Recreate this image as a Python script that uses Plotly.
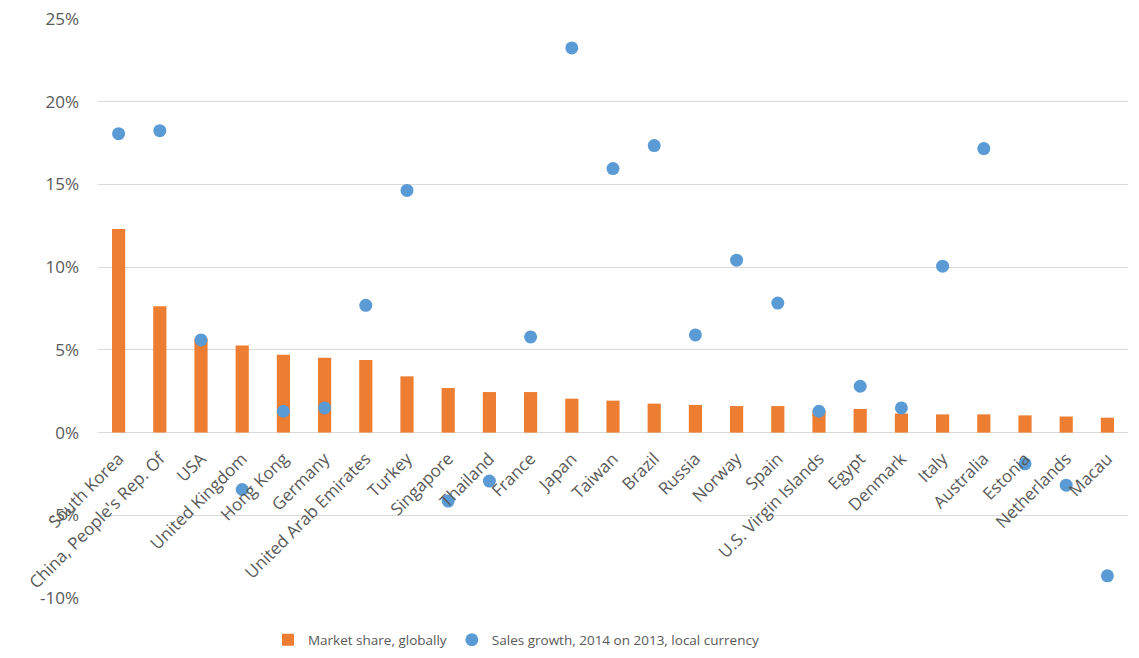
import plotly.graph_objects as go

countries = ["South Korea", "China, People's Rep. Of", "USA", "United Kingdom", "Hong Kong",
             "Germany", "United Arab Emirates", "Turkey", "Singapore", "Thailand", "France",
             "Japan", "Taiwan", "Brazil", "Russia", "Norway", "Spain", "U.S. Virgin Islands",
             "Egypt", "Denmark", "Italy", "Australia", "Estonia", "Netherlands", "Macau"]
market_share = [12.3, 7.63, 5.7, 5.27, 4.71, 4.53, 4.39, 3.4, 2.69, 2.45, 2.45,
                2.05, 1.93, 1.75, 1.67, 1.6, 1.6, 1.35, 1.43, 1.15, 1.1, 1.1, 1.04, 0.97, 0.9]
sales_growth = [18.07, 18.25, 5.6, -3.44, 1.29, 1.49, 7.69, 14.64, -4.14, -2.93, 5.78,
                23.25, 15.96, 17.35, 5.9, 10.42, 7.83, 1.29, 2.8, 1.49, 10.06, 17.17,
                -1.89, -3.18, -8.66]
y_tick_values = [-10, -5, 0, 5, 10, 15, 20, 25]
y_tick_labels = ["-10%", "-5%", "0%", "5%", "10%", "15%", "20%", "25%"]

FONT = "Open Sans"
GREY = "#595959"
y_min, y_max = y_tick_values[0], y_tick_values[-1]

fig = go.Figure()
fig.add_trace(go.Bar(x=countries, y=market_share, name="Market share, globally",
                     marker=dict(color="#ED7D31", line=dict(width=0)), width=0.32))
fig.add_trace(go.Scatter(x=countries, y=sales_growth, mode="markers",
                         name="Sales growth, 2014 on 2013, local currency",
                         marker=dict(color="#5B9BD5", size=13)))

fig.update_layout(
    width=1139, height=658,
    margin=dict(l=98, r=11, t=19, b=60, autoexpand=False),
    plot_bgcolor="white", paper_bgcolor="white",
    font=dict(family=FONT, size=17, color=GREY),
    showlegend=True,
    legend=dict(orientation="h", x=0.165, xanchor="left", y=-0.0725, yanchor="middle",
                font=dict(size=13.5, color=GREY), itemwidth=30, bgcolor="rgba(0,0,0,0)"),
    xaxis=dict(anchor="free", position=(0 - y_min) / (y_max - y_min), tickangle=-45,
               range=[-0.5, len(countries) - 0.5],
               showgrid=False, showline=False, ticks="", zeroline=False, automargin=False,
               ticklabelstandoff=12, tickfont=dict(size=17, color=GREY)),
    yaxis=dict(range=[y_min, y_max], tickvals=y_tick_values, ticktext=y_tick_labels,
               showgrid=True, gridcolor="#D9D9D9", gridwidth=1, zeroline=False,
               showline=False, ticks="", ticklabelstandoff=18, automargin=False,
               tickfont=dict(size=17, color=GREY)),
)

fig.write_html("out.html", config={"displayModeBar": False},
               post_script="document.body.style.margin='0px';")
